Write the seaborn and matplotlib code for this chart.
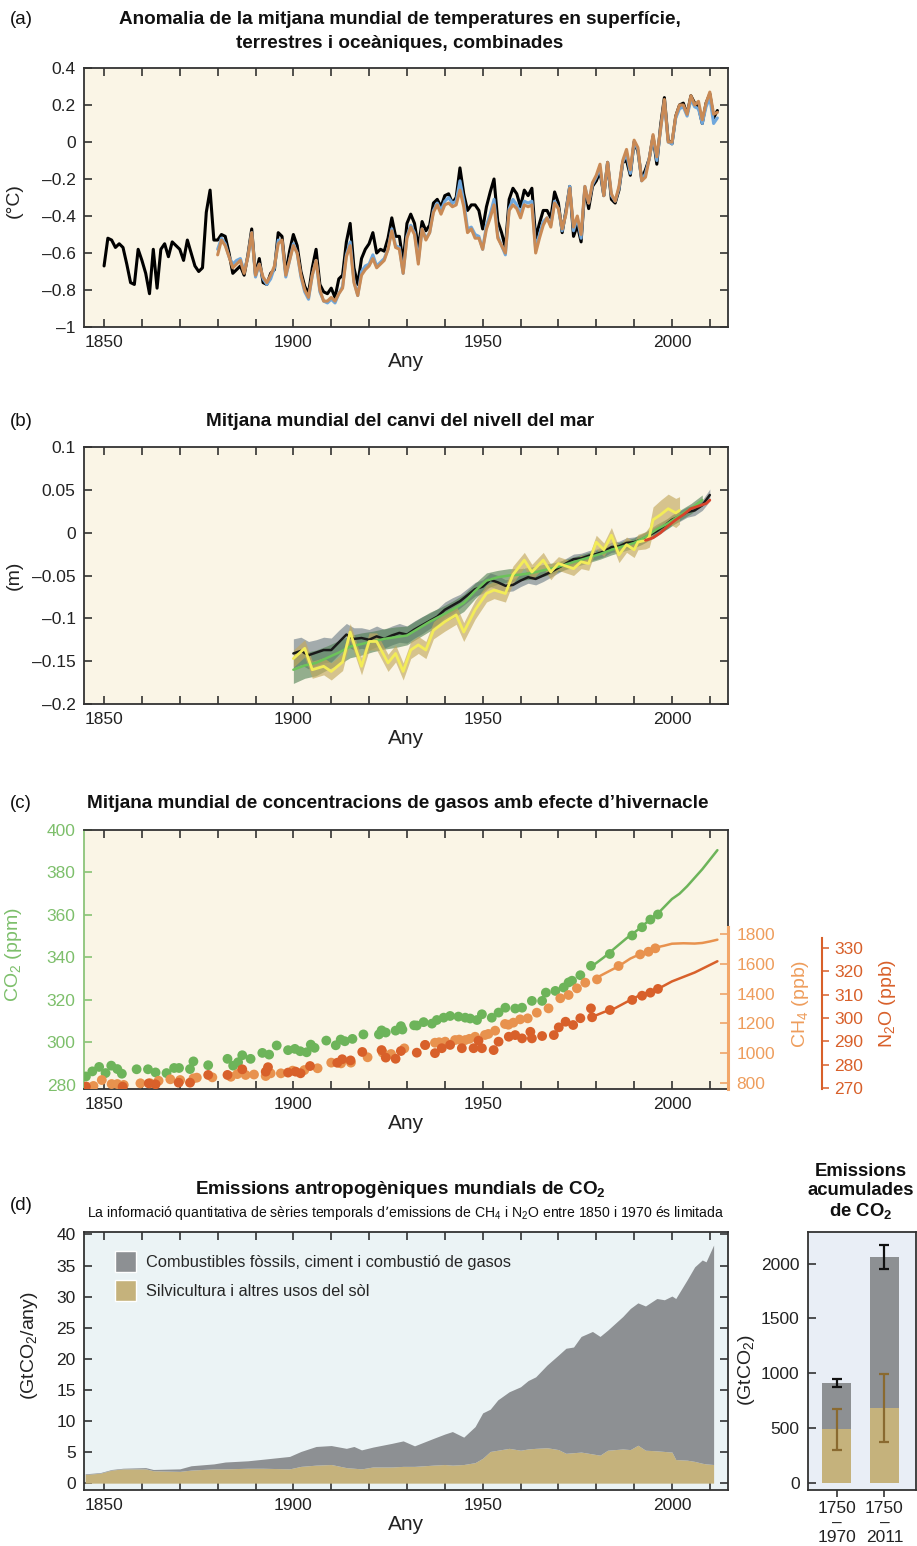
import numpy as np
import matplotlib
matplotlib.use('Agg')
import matplotlib.pyplot as plt
from matplotlib.patches import Patch
import seaborn as sns

# ---------------- (a) temperature anomaly ----------------
temp_years = list(range(1850, 2013))
temp_black = [
    -0.67, -0.52, -0.53, -0.57, -0.55, -0.57, -0.66, -0.76, -0.77, -0.58,
    -0.64, -0.71, -0.82, -0.58, -0.79, -0.58, -0.55, -0.62, -0.54, -0.56,
    -0.58, -0.64, -0.53, -0.60, -0.67, -0.70, -0.68, -0.38, -0.26, -0.53,
    -0.53, -0.50, -0.51, -0.60, -0.71, -0.69, -0.67, -0.72, -0.61, -0.47,
    -0.72, -0.63, -0.76, -0.77, -0.71, -0.69, -0.49, -0.51, -0.71, -0.59,
    -0.50, -0.56, -0.70, -0.78, -0.82, -0.68, -0.58, -0.77, -0.81, -0.82,
    -0.79, -0.84, -0.74, -0.72, -0.54, -0.44, -0.68, -0.77, -0.63, -0.58,
    -0.55, -0.49, -0.60, -0.58, -0.59, -0.52, -0.41, -0.51, -0.51, -0.65,
    -0.44, -0.39, -0.44, -0.57, -0.43, -0.48, -0.45, -0.33, -0.31, -0.35,
    -0.29, -0.28, -0.33, -0.30, -0.14, -0.28, -0.37, -0.34, -0.34, -0.37,
    -0.47, -0.35, -0.27, -0.20, -0.43, -0.49, -0.57, -0.31, -0.25, -0.28,
    -0.35, -0.26, -0.29, -0.25, -0.52, -0.44, -0.37, -0.37, -0.41, -0.27,
    -0.33, -0.49, -0.37, -0.24, -0.51, -0.45, -0.54, -0.25, -0.36, -0.24,
    -0.21, -0.16, -0.29, -0.11, -0.31, -0.33, -0.26, -0.11, -0.10, -0.18,
    0.00, -0.05, -0.20, -0.15, -0.09, 0.03, -0.12, 0.09, 0.24, 0.01,
    -0.01, 0.14, 0.20, 0.21, 0.15, 0.25, 0.21, 0.19, 0.10, 0.21,
    0.26, 0.13, 0.17]
temp_years2 = list(range(1880, 2013))
temp_blue = [
    -0.58, -0.52, -0.55, -0.62, -0.66, -0.64, -0.63, -0.70, -0.62, -0.49,
    -0.73, -0.66, -0.74, -0.77, -0.74, -0.68, -0.53, -0.54, -0.73, -0.64,
    -0.55, -0.60, -0.73, -0.81, -0.85, -0.72, -0.64, -0.81, -0.86, -0.87,
    -0.85, -0.87, -0.82, -0.78, -0.61, -0.54, -0.75, -0.83, -0.70, -0.67,
    -0.66, -0.61, -0.67, -0.65, -0.63, -0.58, -0.47, -0.56, -0.57, -0.71,
    -0.51, -0.45, -0.49, -0.64, -0.47, -0.52, -0.49, -0.37, -0.33, -0.37,
    -0.32, -0.30, -0.33, -0.32, -0.21, -0.32, -0.47, -0.46, -0.50, -0.51,
    -0.58, -0.45, -0.39, -0.31, -0.51, -0.56, -0.61, -0.36, -0.31, -0.34,
    -0.39, -0.32, -0.33, -0.32, -0.58, -0.50, -0.43, -0.41, -0.45, -0.32,
    -0.36, -0.48, -0.38, -0.24, -0.48, -0.41, -0.52, -0.24, -0.33, -0.23,
    -0.19, -0.14, -0.29, -0.11, -0.29, -0.32, -0.25, -0.11, -0.06, -0.17,
    0.00, -0.04, -0.21, -0.17, -0.09, 0.03, -0.10, 0.07, 0.22, 0.00,
    -0.01, 0.13, 0.18, 0.19, 0.14, 0.23, 0.19, 0.18, 0.10, 0.19,
    0.24, 0.10, 0.13]
temp_orange = [
    -0.61, -0.53, -0.56, -0.62, -0.68, -0.66, -0.64, -0.71, -0.62, -0.49,
    -0.72, -0.66, -0.73, -0.76, -0.72, -0.67, -0.55, -0.53, -0.72, -0.64,
    -0.56, -0.60, -0.72, -0.80, -0.84, -0.72, -0.64, -0.80, -0.86, -0.86,
    -0.84, -0.86, -0.82, -0.79, -0.62, -0.56, -0.76, -0.83, -0.72, -0.69,
    -0.67, -0.63, -0.68, -0.66, -0.64, -0.58, -0.48, -0.57, -0.58, -0.71,
    -0.52, -0.46, -0.50, -0.66, -0.47, -0.53, -0.49, -0.38, -0.34, -0.39,
    -0.34, -0.33, -0.35, -0.34, -0.26, -0.35, -0.49, -0.47, -0.52, -0.52,
    -0.58, -0.47, -0.41, -0.34, -0.52, -0.56, -0.60, -0.37, -0.34, -0.36,
    -0.41, -0.34, -0.35, -0.34, -0.60, -0.52, -0.45, -0.41, -0.46, -0.33,
    -0.36, -0.47, -0.39, -0.25, -0.46, -0.40, -0.50, -0.24, -0.33, -0.22,
    -0.18, -0.12, -0.29, -0.11, -0.28, -0.32, -0.24, -0.10, -0.04, -0.15,
    0.01, -0.03, -0.21, -0.19, -0.09, 0.04, -0.08, 0.07, 0.23, 0.00,
    0.00, 0.14, 0.20, 0.20, 0.15, 0.25, 0.20, 0.22, 0.12, 0.21,
    0.27, 0.15, 0.16]

# ---------------- (b) sea level ----------------
sl_black_years = list(range(1900, 2011, 2))
sl_black = [
    -0.141, -0.138, -0.143, -0.140, -0.137, -0.137, -0.128, -0.119, -0.124, -0.123,
    -0.125, -0.121, -0.124, -0.120, -0.117, -0.119, -0.113, -0.108, -0.103, -0.098,
    -0.090, -0.085, -0.080, -0.073, -0.066, -0.063, -0.055, -0.058, -0.062, -0.061,
    -0.056, -0.052, -0.054, -0.050, -0.046, -0.041, -0.036, -0.031, -0.030, -0.027,
    -0.025, -0.022, -0.017, -0.016, -0.012, -0.011, -0.008, -0.003, 0.002, 0.008,
    0.015, 0.019, 0.024, 0.026, 0.032, 0.044]
sl_black_err = [
    0.017, 0.016, 0.016, 0.015, 0.015, 0.014, 0.014, 0.013, 0.013, 0.012,
    0.012, 0.012, 0.011, 0.011, 0.011, 0.010, 0.010, 0.010, 0.009, 0.009,
    0.009, 0.009, 0.008, 0.008, 0.008, 0.008, 0.008, 0.008, 0.007, 0.007,
    0.007, 0.007, 0.007, 0.007, 0.006, 0.006, 0.006, 0.006, 0.006, 0.006,
    0.006, 0.006, 0.006, 0.006, 0.006, 0.006, 0.006, 0.006, 0.006, 0.006,
    0.006, 0.006, 0.006, 0.006, 0.006, 0.007]
sl_green_years = list(range(1900, 2009, 3))
sl_green = [
    -0.160, -0.155, -0.152, -0.146, -0.140, -0.133, -0.130, -0.127, -0.124, -0.122,
    -0.120, -0.112, -0.104, -0.097, -0.090, -0.082, -0.068, -0.056, -0.052, -0.050,
    -0.049, -0.047, -0.044, -0.041, -0.037, -0.033, -0.029, -0.025, -0.020, -0.016,
    -0.012, -0.005, 0.004, 0.011, 0.020, 0.028, 0.038]
sl_green_err = [
    0.016, 0.015, 0.015, 0.014, 0.014, 0.013, 0.013, 0.012, 0.012, 0.012,
    0.011, 0.011, 0.011, 0.010, 0.010, 0.010, 0.009, 0.009, 0.008, 0.008,
    0.007, 0.007, 0.007, 0.006, 0.006, 0.006, 0.006, 0.006, 0.006, 0.006,
    0.006, 0.006, 0.006, 0.006, 0.006, 0.006, 0.006]
sl_yellow_years = [
    1900, 1903, 1905, 1908, 1910, 1913, 1915, 1918, 1920, 1922,
    1925, 1927, 1929, 1931, 1933, 1935, 1937, 1940, 1943, 1945,
    1948, 1951, 1953, 1956, 1958, 1961, 1963, 1966, 1968, 1970,
    1974, 1976, 1978, 1980, 1982, 1984, 1986, 1988, 1990, 1991,
    1993, 1994, 1995, 1997, 1999, 2001, 2002]
sl_yellow = [
    -0.147, -0.135, -0.160, -0.156, -0.162, -0.151, -0.116, -0.156, -0.127, -0.127,
    -0.152, -0.141, -0.162, -0.137, -0.131, -0.137, -0.114, -0.104, -0.096, -0.116,
    -0.090, -0.071, -0.067, -0.071, -0.049, -0.032, -0.046, -0.032, -0.046, -0.036,
    -0.042, -0.034, -0.036, -0.011, -0.020, -0.003, -0.026, -0.014, -0.020, -0.011,
    -0.009, -0.005, 0.015, 0.021, 0.028, 0.023, 0.026]
sl_yellow_err = [
    0.010, 0.010, 0.010, 0.010, 0.010, 0.010, 0.010, 0.010, 0.010, 0.010,
    0.010, 0.010, 0.010, 0.010, 0.010, 0.010, 0.010, 0.011, 0.011, 0.011,
    0.011, 0.010, 0.010, 0.010, 0.010, 0.009, 0.009, 0.009, 0.009, 0.008,
    0.008, 0.008, 0.008, 0.008, 0.008, 0.009, 0.009, 0.009, 0.009, 0.009,
    0.010, 0.012, 0.015, 0.017, 0.017, 0.017, 0.016]
sl_red_years = [1993, 1995, 1997, 1999, 2001, 2003, 2005, 2007, 2009, 2010]
sl_red = [-0.009, -0.006, 0.000, 0.008, 0.015, 0.021, 0.028, 0.031, 0.034, 0.038]

# ---------------- (c) greenhouse gases ----------------
co2_dot_years = [
    1845.2, 1846.9, 1848.7, 1850.4, 1851.9, 1853.5, 1854.7, 1858.6, 1861.6, 1863.6,
    1866.5, 1868.5, 1869.8, 1872.7, 1873.6, 1877.5, 1882.6, 1884.1, 1885.4, 1886.5,
    1888.7, 1891.8, 1893.6, 1895.6, 1898.6, 1900.4, 1901.8, 1903.5, 1904.6, 1905.6,
    1908.7, 1911.2, 1912.5, 1913.6, 1915.6, 1918.5, 1922.6, 1923.3, 1924.4, 1927.0,
    1928.4, 1928.8, 1931.9, 1932.6, 1934.4, 1936.6, 1937.9, 1939.7, 1941.4, 1943.6,
    1945.4, 1946.7, 1948.5, 1949.8, 1952.4, 1954.2, 1956.0, 1958.6, 1960.4, 1963.0,
    1965.7, 1966.7, 1969.2, 1971.4, 1972.7, 1973.6, 1975.8, 1978.6, 1983.6, 1989.5,
    1992.1, 1994.3, 1996.3]
co2_dots = [
    283.9, 286.3, 288.4, 285.5, 289.0, 287.4, 285.2, 287.3, 287.3, 285.8,
    285.5, 287.9, 287.9, 287.4, 291.0, 289.2, 292.2, 289.0, 290.6, 293.9,
    292.2, 295.0, 294.2, 298.5, 296.3, 296.9, 295.8, 295.3, 298.9, 297.4,
    300.8, 298.6, 301.3, 300.5, 301.6, 303.7, 303.7, 305.6, 304.6, 305.5,
    307.6, 306.0, 308.0, 307.9, 309.5, 308.8, 310.5, 311.6, 312.4, 312.1,
    311.6, 311.2, 310.5, 313.2, 311.6, 314.0, 316.3, 315.9, 316.3, 319.5,
    319.5, 323.4, 324.2, 325.8, 328.2, 329.0, 331.6, 336.0, 341.6, 350.3,
    354.2, 357.8, 360.2]
co2_line_years = [1979, 1982, 1985, 1988, 1991, 1994, 1997, 2000, 2002, 2004, 2006, 2008, 2010, 2012]
co2_line = [336.0, 340.0, 344.5, 349.0, 353.0, 357.5, 362.0, 367.5, 370.0, 373.5, 377.5, 381.5, 386.0, 390.5]

ch4_dot_years = [
    1845.4, 1847.2, 1849.4, 1852.0, 1853.5, 1855.2, 1859.6, 1862.2, 1864.4, 1867.5,
    1870.1, 1873.6, 1874.5, 1878.6, 1883.5, 1885.2, 1887.4, 1889.6, 1892.7, 1894.0,
    1896.7, 1899.8, 1902.9, 1906.4, 1910.0, 1912.6, 1915.2, 1919.6, 1923.6, 1925.8,
    1929.3, 1934.8, 1937.4, 1940.1, 1942.7, 1945.4, 1948.0, 1950.6, 1953.3, 1955.9,
    1958.1, 1959.9, 1961.9, 1964.3, 1967.4, 1970.5, 1972.7, 1974.9, 1977.1, 1980.2,
    1985.9, 1991.6, 1993.8, 1995.6, 1938.5, 1943.8, 1946.5, 1951.5, 1956.8]
ch4_dots = [
    773, 778, 818, 791, 791, 785, 796, 796, 813, 823,
    818, 829, 834, 836, 840, 858, 852, 855, 845, 863,
    863, 881, 885, 897, 935, 930, 935, 971, 1002, 993,
    1031, 1053, 1069, 1076, 1087, 1087, 1109, 1121, 1150, 1195,
    1204, 1226, 1233, 1271, 1300, 1368, 1390, 1435, 1473, 1495,
    1585, 1663, 1681, 1704, 1072, 1090, 1095, 1128, 1190]
ch4_line_years = [1980, 1983, 1986, 1989, 1992, 1995, 1998, 2000, 2003, 2006, 2008, 2010, 2012]
ch4_line = [1505, 1545, 1585, 1635, 1670, 1705, 1722, 1735, 1738, 1736, 1740, 1750, 1762]

n2o_dot_years = [
    1845.2, 1854.9, 1861.8, 1863.6, 1869.7, 1872.7, 1877.5, 1882.6, 1886.5, 1892.7,
    1893.3, 1898.6, 1900.6, 1901.9, 1904.4, 1911.6, 1912.9, 1915.1, 1918.2, 1923.3,
    1924.4, 1927.0, 1928.4, 1932.6, 1934.8, 1937.4, 1939.2, 1941.4, 1944.5, 1947.6,
    1948.9, 1949.8, 1952.9, 1954.2, 1956.9, 1958.6, 1960.4, 1962.6, 1963.0, 1965.7,
    1968.8, 1970.1, 1971.9, 1973.9, 1975.8, 1978.6, 1978.9, 1983.6, 1989.5, 1992.1,
    1994.3, 1996.3]
n2o_dots = [
    270.7, 270.7, 272.1, 271.7, 272.4, 272.4, 275.7, 275.7, 278.1, 277.1,
    279.0, 276.7, 277.1, 276.4, 279.5, 280.9, 282.4, 281.9, 285.5, 286.3,
    283.1, 282.6, 285.9, 285.2, 288.5, 285.0, 287.1, 288.5, 287.1, 287.1,
    290.3, 287.1, 286.3, 289.9, 292.0, 292.7, 291.3, 294.1, 291.3, 292.3,
    292.7, 296.0, 298.4, 297.0, 299.9, 304.1, 300.3, 303.4, 307.7, 309.5,
    310.8, 312.4]
n2o_line_years = [1979, 1982, 1985, 1988, 1991, 1994, 1997, 2000, 2003, 2006, 2009, 2012]
n2o_line = [300.5, 302.5, 304.2, 306.8, 309.3, 311.2, 313.0, 315.6, 317.5, 319.4, 321.8, 324.2]

# ---------------- (d) CO2 emissions ----------------
em_years = [
    1845, 1849, 1852, 1855, 1861, 1863, 1870, 1873, 1879, 1882,
    1888, 1892, 1899, 1902, 1906, 1910, 1914, 1916, 1918, 1921,
    1926, 1929, 1932, 1937, 1940, 1942, 1945, 1948, 1950, 1952,
    1954, 1957, 1960, 1962, 1964, 1967, 1970, 1972, 1974, 1976,
    1979, 1981, 1983, 1987, 1989, 1991, 1993, 1996, 1998, 2000,
    2001, 2004, 2006, 2008, 2009, 2011]
em_land = [
    1.4, 1.6, 2.1, 2.3, 2.3, 2.0, 1.9, 2.1, 2.3, 2.3,
    2.4, 2.4, 2.3, 2.7, 2.9, 3.0, 2.5, 2.4, 2.3, 2.6,
    2.6, 2.7, 2.7, 2.9, 3.0, 2.9, 3.0, 3.3, 4.0, 5.1,
    5.3, 5.6, 5.3, 5.5, 5.6, 5.7, 5.4, 4.8, 4.9, 5.0,
    4.7, 4.5, 5.3, 5.5, 5.4, 6.1, 5.3, 5.2, 5.1, 5.0,
    3.8, 3.7, 3.5, 3.2, 3.1, 3.0]
em_fossil = [
    0.1, 0.1, 0.1, 0.1, 0.2, 0.2, 0.4, 0.7, 0.8, 1.1,
    1.2, 1.45, 2.0, 2.4, 3.0, 3.05, 3.1, 3.5, 3.05, 3.2,
    3.8, 4.1, 3.3, 4.3, 4.9, 5.4, 4.4, 5.8, 7.3, 6.8,
    8.1, 9.1, 10.2, 11.0, 11.5, 13.3, 15.2, 16.9, 17.0, 18.6,
    19.7, 19.1, 19.3, 21.3, 22.7, 22.9, 23.2, 24.5, 24.4, 25.1,
    25.9, 29.0, 31.3, 32.7, 32.5, 35.3]
legend_labels = ['Combustibles fòssils, ciment i combustió de gasos',
                 'Silvicultura i altres usos del sòl']

bar_labels = ['1750\n–\n1970', '1750\n–\n2011']
bar_total = [915, 2060]
bar_total_err = [37, 110]
bar_land = [490, 685]
bar_land_err = [185, 310]

# ---------------- style ----------------
sns.set_theme(style='ticks')
plt.rcParams['font.family'] = ['Liberation Sans', 'DejaVu Sans']
plt.rcParams['mathtext.default'] = 'regular'

CREAM = '#FAF5E6'
INK = '#222222'
GRAY = '#8D9093'
TAN = '#C5B27C'
TICK = 12.5
LAB = 14

W, H = 917, 1546
fig = plt.figure(figsize=(W / 100, H / 100), dpi=100)


def rect(l, t, r, b):
    return [l / W, 1 - b / H, (r - l) / W, (b - t) / H]


def ftext(x, y, s, **kw):
    fig.text(x / W, 1 - y / H, s, **kw)


def year_axis(ax, bg):
    ax.set_facecolor(bg)
    for s in ax.spines.values():
        s.set_color('#333333')
        s.set_linewidth(1.3)
    ax.set_xlim(1844.7, 2014.8)
    ticks = list(range(1850, 2011, 10))
    ax.set_xticks(ticks)
    ax.set_xticklabels([str(t) if t % 50 == 0 else '' for t in ticks])
    ax.tick_params(direction='in', length=6, width=1.1, top=True, right=True,
                   labelsize=TICK, colors=INK, pad=6)
    ax.set_xlabel('Any', fontsize=LAB + 1, color=INK, labelpad=1)


title_kw = dict(fontsize=13.6, fontweight='bold', ha='center', va='center', color='#111111')
plab_kw = dict(fontsize=13.5, ha='left', va='center', color='#111111')

# ---------- panel (a) ----------
ax_a = fig.add_axes(rect(84, 68, 728, 327))
year_axis(ax_a, CREAM)
sns.lineplot(x=temp_years, y=temp_black, ax=ax_a, color='black', linewidth=2.2,
             estimator=None, sort=False)
sns.lineplot(x=temp_years2, y=temp_blue, ax=ax_a, color='#6FA7DC', linewidth=2.2,
             estimator=None, sort=False)
sns.lineplot(x=temp_years2, y=temp_orange, ax=ax_a, color='#C98A55', linewidth=2.2,
             estimator=None, sort=False)
ax_a.set_ylim(-1, 0.4)
ax_a.set_yticks([0.4, 0.2, 0, -0.2, -0.4, -0.6, -0.8, -1])
ax_a.set_yticklabels(['0.4', '0.2', '0', '–0.2', '–0.4', '–0.6', '–0.8', '–1'])
ax_a.set_ylabel('(°C)', fontsize=LAB, color=INK)
ax_a.yaxis.set_label_coords(-0.095, 0.49)
ftext(10, 20, '(a)', **plab_kw)
ftext(400, 20, 'Anomalia de la mitjana mundial de temperatures en superfície,', **title_kw)
ftext(400, 44, 'terrestres i oceàniques, combinades', **title_kw)

# ---------- panel (b) ----------
ax_b = fig.add_axes(rect(84, 447, 728, 704))
year_axis(ax_b, CREAM)
b_y = np.array(sl_black); b_e = np.array(sl_black_err)
g_y = np.array(sl_green); g_e = np.array(sl_green_err)
y_y = np.array(sl_yellow); y_e = np.array(sl_yellow_err)
ax_b.fill_between(sl_black_years, b_y - b_e, b_y + b_e, color='#8E999E', alpha=0.8, lw=0)
ax_b.fill_between(sl_green_years, g_y - g_e, g_y + g_e, color='#4F7F52', alpha=0.6, lw=0)
ax_b.fill_between(sl_yellow_years, y_y - y_e, y_y + y_e, color='#C4A95E', alpha=0.65, lw=0)
sns.lineplot(x=sl_black_years, y=sl_black, ax=ax_b, color='#1A1A1A', linewidth=1.8,
             estimator=None, sort=False)
sns.lineplot(x=sl_green_years, y=sl_green, ax=ax_b, color='#6CC35A', linewidth=1.8,
             estimator=None, sort=False)
sns.lineplot(x=sl_yellow_years, y=sl_yellow, ax=ax_b, color='#F3EC58', linewidth=2.0,
             estimator=None, sort=False)
sns.lineplot(x=sl_red_years, y=sl_red, ax=ax_b, color='#D8432B', linewidth=2.0,
             estimator=None, sort=False)
ax_b.set_ylim(-0.2, 0.1)
ax_b.set_yticks([0.1, 0.05, 0, -0.05, -0.1, -0.15, -0.2])
ax_b.set_yticklabels(['0.1', '0.05', '0', '–0.05', '–0.1', '–0.15', '–0.2'])
ax_b.set_ylabel('(m)', fontsize=LAB, color=INK)
ax_b.yaxis.set_label_coords(-0.095, 0.5)
ftext(10, 422, '(b)', **plab_kw)
ftext(400, 422, 'Mitjana mundial del canvi del nivell del mar', **title_kw)

# ---------- panel (c) ----------
CO2C = '#6DB45A'
CH4C = '#E8924E'
N2OC = '#D8602A'
ax_c = fig.add_axes(rect(84, 830, 728, 1089))
year_axis(ax_c, CREAM)
ax_c.tick_params(axis='y', right=False, colors='#7DBF6B')
ax_c.tick_params(axis='x', colors=INK)
ax_c.spines['left'].set_color('#8CC47A')
ax_c.set_ylim(278, 400)
ax_c.set_yticks(range(280, 401, 20))
ax_c.spines['right'].set_bounds(354.8, 400)
sns.scatterplot(x=co2_dot_years, y=co2_dots, ax=ax_c, color=CO2C, s=50,
                edgecolor='none', zorder=3)
sns.lineplot(x=co2_line_years, y=co2_line, ax=ax_c, color=CO2C, linewidth=1.8,
             estimator=None, sort=False)
ax_c.set_ylabel('CO$_2$ (ppm)', fontsize=LAB, color='#7DBF6B')
ax_c.yaxis.set_label_coords(-0.093, 0.52)

ax_ch4 = ax_c.twinx()
ax_ch4.set_ylim(757.6, 2500)
for k in ['top', 'left', 'bottom']:
    ax_ch4.spines[k].set_visible(False)
ax_ch4.spines['right'].set_color('#F2A76A')
ax_ch4.spines['right'].set_linewidth(2.2)
ax_ch4.spines['right'].set_bounds(757.6, 1850)
ax_ch4.set_yticks(range(800, 1801, 200))
ax_ch4.tick_params(axis='y', direction='in', length=6, width=1.1, colors='#EE9D5C',
                   labelsize=TICK, pad=6)
sns.scatterplot(x=ch4_dot_years, y=ch4_dots, ax=ax_ch4, color=CH4C, s=50,
                edgecolor='none', zorder=3)
sns.lineplot(x=ch4_line_years, y=ch4_line, ax=ax_ch4, color=CH4C, linewidth=1.8,
             estimator=None, sort=False)
ax_ch4.set_ylabel('CH$_4$ (ppb)', fontsize=LAB, color='#EE9D5C')
ax_ch4.yaxis.set_label_coords(1.097, 0.33)

ax_n2o = ax_c.twinx()
ax_n2o.set_ylim(269.7, 380.2)
for k in ['top', 'left', 'bottom']:
    ax_n2o.spines[k].set_visible(False)
ax_n2o.spines['right'].set_position(('axes', 1.146))
ax_n2o.spines['right'].set_color(N2OC)
ax_n2o.spines['right'].set_linewidth(1.5)
ax_n2o.spines['right'].set_bounds(269.7, 334)
ax_n2o.set_yticks(range(270, 331, 10))
ax_n2o.tick_params(axis='y', direction='out', length=5, width=1.1, colors=N2OC,
                   labelsize=TICK, pad=4)
sns.scatterplot(x=n2o_dot_years, y=n2o_dots, ax=ax_n2o, color=N2OC, s=50,
                edgecolor='none', zorder=3)
sns.lineplot(x=n2o_line_years, y=n2o_line, ax=ax_n2o, color=N2OC, linewidth=1.8,
             estimator=None, sort=False)
ax_n2o.set_ylabel('N$_2$O (ppb)', fontsize=LAB, color=N2OC)
ax_n2o.yaxis.set_label_coords(1.232, 0.33)
for tw in (ax_ch4, ax_n2o):
    tw.set_xlim(1844.7, 2014.8)
ftext(10, 803, '(c)', **plab_kw)
ftext(398, 803, 'Mitjana mundial de concentracions de gasos amb efecte d’hivernacle', **title_kw)

# ---------- panel (d) ----------
ax_d = fig.add_axes(rect(84, 1232, 728, 1490))
year_axis(ax_d, '#EBF3F5')
land = np.array(em_land)
fossil = np.array(em_fossil)
ax_d.fill_between(em_years, 0, land, color=TAN, lw=0)
ax_d.fill_between(em_years, land, land + fossil, color=GRAY, lw=0)
ax_d.set_ylim(-1.1, 40.4)
ax_d.set_yticks(range(0, 41, 5))
ax_d.set_ylabel('(GtCO$_2$/any)', fontsize=LAB, color=INK)
ax_d.yaxis.set_label_coords(-0.068, 0.56)
ax_d.legend(handles=[Patch(facecolor=GRAY), Patch(facecolor=TAN)], labels=legend_labels,
            loc='upper left', frameon=False, fontsize=11.8, handlelength=1.3,
            handleheight=1.6, handletextpad=0.6, labelspacing=0.5,
            bbox_to_anchor=(0.025, 0.985))
ftext(10, 1205, '(d)', **plab_kw)
ftext(400, 1190, 'Emissions antropogèniques mundials de CO$_2$', **title_kw)
ftext(406, 1213, 'La informació quantitativa de sèries temporals d’emissions de CH$_4$ '
      'i N$_2$O entre 1850 i 1970 és limitada', fontsize=10.1, ha='center', va='center',
      color='#111111')

# ---------- cumulative bars ----------
ax_e = fig.add_axes(rect(808, 1232, 916, 1490))
ax_e.set_facecolor('#E9EEF6')
sns.barplot(x=bar_labels, y=bar_total, ax=ax_e, color=GRAY, saturation=1, width=0.6,
            errorbar=None, linewidth=0)
sns.barplot(x=bar_labels, y=bar_land, ax=ax_e, color=TAN, saturation=1, width=0.6,
            errorbar=None, linewidth=0)
pos = list(range(len(bar_labels)))
ax_e.errorbar(pos, bar_total, yerr=bar_total_err, fmt='none', ecolor='#111111',
              elinewidth=1.6, capsize=3.5, capthick=1.6)
ax_e.errorbar(pos, bar_land, yerr=bar_land_err, fmt='none', ecolor='#8A6A30',
              elinewidth=1.6, capsize=3.5, capthick=1.6)
ax_e.set_xlim(-0.6, 1.66)
ax_e.set_ylim(-61, 2287)
ax_e.set_yticks(range(0, 2001, 500))
ax_e.set_xticks(pos)
ax_e.set_xticklabels(bar_labels, linespacing=0.95)
for s in ax_e.spines.values():
    s.set_color('#333333')
    s.set_linewidth(1.3)
ax_e.tick_params(axis='y', direction='in', length=6, width=1.1, labelsize=TICK, colors=INK, pad=6)
ax_e.tick_params(axis='x', direction='out', length=5, width=1.1, labelsize=TICK, colors=INK, pad=3)
ax_e.set_xlabel('')
ax_e.set_ylabel('(GtCO$_2$)', fontsize=LAB, color=INK)
ax_e.yaxis.set_label_coords(-0.47, 0.465)
ftext(861, 1192, 'Emissions\nacumulades\nde CO$_2$', fontsize=13.3, fontweight='bold',
      ha='center', va='center', color='#111111', linespacing=1.15)

fig.savefig('out.png', dpi=100)
